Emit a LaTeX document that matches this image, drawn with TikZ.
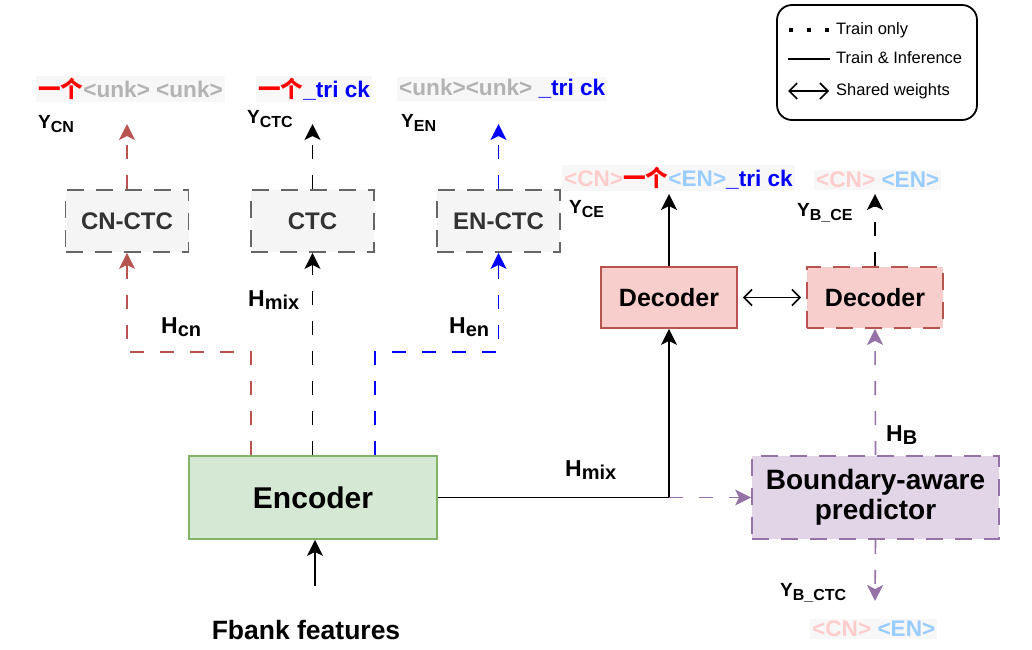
\documentclass[tikz,border=0pt]{standalone}
\usepackage{fontspec}
\setmainfont{Liberation Sans}
\newfontfamily\cjk{Noto Sans CJK SC}
\usetikzlibrary{arrows.meta}
\definecolor{unk}{HTML}{B3B3B3}
\definecolor{cnp}{HTML}{FFCCCC}
\definecolor{enb}{HTML}{99CCFF}
\definecolor{lblbg}{HTML}{F7F7F7}
\definecolor{encf}{HTML}{D5E8D4}
\definecolor{encd}{HTML}{82B366}
\definecolor{ctcf}{HTML}{F5F5F5}
\definecolor{ctcd}{HTML}{666666}
\definecolor{ctct}{HTML}{333333}
\definecolor{decf}{HTML}{F8CECC}
\definecolor{decd}{HTML}{B85450}
\definecolor{bapf}{HTML}{E1D5E7}
\definecolor{bapd}{HTML}{9673A6}
\newcommand\yige{{\cjk\bfseries\color{red}一个}}
\newcommand\Ylab[2]{{\fontsize{19}{19}\selectfont Y}\raisebox{-0.32em}{\fontsize{16}{16}\selectfont #2}}
\newcommand\Hlab[2]{{\fontsize{23}{23}\selectfont #1}\raisebox{-0.3em}{\fontsize{20}{20}\selectfont #2}}
\begin{document}
\begin{tikzpicture}[x=1pt,y=-1pt,
  tip/.style={-{Stealth[length=16pt,width=16pt,inset=4pt]}},
  conn/.style={line width=1.6pt},
  dsh/.style={dash pattern=on 14pt off 16pt},
  bdash/.style={dash pattern=on 17pt off 12pt},
  blk/.style={inner sep=0pt, line width=1.8pt, font=\bfseries},
  ctcbox/.style={blk, bdash, draw=ctcd, fill=ctcf, minimum width=123pt, minimum height=62pt, text=ctct, font=\bfseries\fontsize{24}{24}\selectfont},
  decbox/.style={blk, draw=decd, fill=decf, minimum width=136pt, minimum height=61pt, font=\bfseries\fontsize{25}{25}\selectfont},
  outtxt/.style={anchor=west, inner sep=2pt, fill=lblbg, font=\bfseries\fontsize{22.6}{22.6}\selectfont},
  ylbl/.style={anchor=west, inner sep=1pt, font=\bfseries},
  leg/.style={anchor=west, inner sep=0pt, font=\fontsize{16.5}{16.5}\selectfont},
  dbl/.style={line width=1.6pt, {Straight Barb[length=8pt,width=16pt]}-{Straight Barb[length=8pt,width=16pt]}}
]
\useasboundingbox (0,0) rectangle (1032,649);

% legend
\node[draw, line width=1.8pt, rounded corners=15pt, minimum width=200pt, minimum height=115pt, inner sep=0pt] (legend) at (877,62.5) {};
\coordinate (l1a) at (789,30); \coordinate (l1b) at (830,30);
\coordinate (l2a) at (788,59); \coordinate (l2b) at (830,59);
\coordinate (l3a) at (788,91); \coordinate (l3b) at (829,91);
\draw[line width=3.5pt, dash pattern=on 3.5pt off 14.5pt] (l1a) -- (l1b);
\draw[line width=1.6pt] (l2a) -- (l2b);
\draw[dbl] (l3a) -- (l3b);
\node[leg] (t1) at (836,30) {Train only};
\node[leg] (t2) at (836,58) {Train \& Inference};
\node[leg] (t3) at (836,91) {Shared weights};

% blocks
\node[blk, draw=encd, fill=encf, minimum width=248pt, minimum height=83pt, font=\bfseries\fontsize{30}{30}\selectfont] (enc) at (313,497.5) {Encoder};
\node[ctcbox] (cnctc) at (127,221) {CN-CTC};
\node[ctcbox] (ctc) at (312.5,221) {CTC};
\node[ctcbox] (enctc) at (498.5,221) {EN-CTC};
\node[decbox] (dec1) at (669,297.5) {Decoder};
\node[decbox, bdash] (dec2) at (875,297.5) {Decoder};
\node[blk, bdash, draw=bapd, fill=bapf, minimum width=247pt, minimum height=83pt, align=center, font=\bfseries\fontsize{28}{30}\selectfont] (bap) at (875.5,497.5) {Boundary-aware\\predictor};
\node[font=\bfseries\fontsize{26.5}{26.5}\selectfont, inner sep=1pt] (fbank) at (306,630) {Fbank features};

% coordinates
\coordinate (r1) at (251,352);
\coordinate (b1) at (375,352);
\coordinate (ycn) at (127,124);
\coordinate (yctc) at (312.5,124);
\coordinate (yen) at (498.5,124);
\coordinate (yce) at (669,194);
\coordinate (ybce) at (875,194);
\coordinate (ybctc) at (875,601);
\coordinate (fb) at (315,586);

% connectors
\draw[conn, dsh, tip, draw=decd] (enc.north -| r1) -- (r1) -| (cnctc.south);
\draw[conn, dsh, tip] (enc.north -| ctc.south) -- (ctc.south);
\draw[conn, dsh, tip, draw=blue] (enc.north -| b1) -- (b1) -| (enctc.south);
\draw[conn, dsh, tip, draw=decd] (cnctc.north) -- (ycn);
\draw[conn, dsh, tip] (ctc.north) -- (yctc);
\draw[conn, dsh, tip, draw=blue] (enctc.north) -- (yen);
\draw[conn, tip] (enc.east) -| (dec1.south);
\draw[conn, dsh, tip, draw=bapd] (enc.east -| dec1.south) -- (bap.west);
\draw[conn, tip] (dec1.north) -- (yce);
\draw[conn, dsh, tip] (dec2.north) -- (ybce);
\draw[conn, dsh, tip, draw=bapd] (bap.north) -- (dec2.south);
\draw[conn, dsh, tip, draw=bapd] (bap.south) -- (ybctc);
\draw[dbl, shorten <=5pt, shorten >=5pt] (dec1.east) -- (dec2.west);
\draw[conn, tip] (fb) -- (fb |- enc.south);

% outputs
\node[outtxt] (o1) at (36,89) {\yige\textcolor{unk}{<unk> <unk>}};
\node[outtxt] (o2) at (256,89) {\yige\textcolor{blue}{\_tri ck}};
\node[outtxt] (o3) at (397,89) {\textcolor{unk}{<unk><unk>} \textcolor{blue}{\_tri ck}};
\node[outtxt] (o4) at (562,178) {\textcolor{cnp}{<CN>}\yige\textcolor{enb}{<EN>}\textcolor{blue}{\_tri ck}};
\node[outtxt] (o5) at (814,180) {\textcolor{cnp}{<CN>} \textcolor{enb}{<EN>}};
\node[outtxt] (o6) at (810,629) {\textcolor{cnp}{<CN>} \textcolor{enb}{<EN>}};

% Y labels
\node[ylbl] (ycnl) at (37,124) {\Ylab{Y}{CN}};
\node[ylbl] (yctcl) at (246,119) {\Ylab{Y}{CTC}};
\node[ylbl] (yenl) at (400,123) {\Ylab{Y}{EN}};
\node[ylbl] (ycel) at (568,209) {\Ylab{Y}{CE}};
\node[ylbl] (ybcel) at (796,213) {\Ylab{Y}{B\_CE}};
\node[ylbl] (ybctcl) at (779,593) {\Ylab{Y}{B\_CTC}};

% H labels
\node[ylbl] (hcn) at (160,327) {\Hlab{H}{cn}};
\node[ylbl] (hmix1) at (247,300) {\Hlab{H}{mix}};
\node[ylbl] (hen) at (448,327) {\Hlab{H}{en}};
\node[ylbl] (hmix2) at (564,470) {\Hlab{H}{mix}};
\node[ylbl] (hb) at (885,435) {\Hlab{H}{B}};
\end{tikzpicture}
\end{document}
